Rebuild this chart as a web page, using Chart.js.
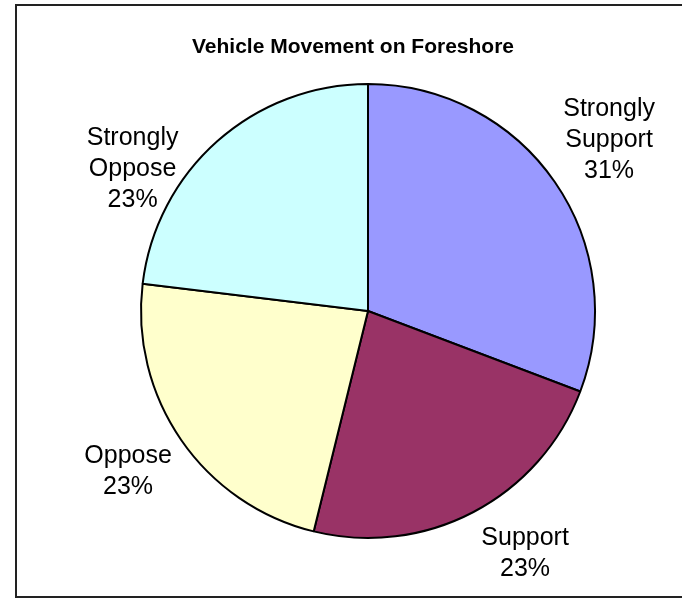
<!DOCTYPE html>
<html>
<head>
<meta charset="utf-8">
<script src="https://cdn.jsdelivr.net/npm/chart.js@4/dist/chart.umd.min.js"></script>
<style>
  html, body { margin: 0; padding: 0; background: #ffffff; }
  #wrap { position: relative; width: 682px; height: 601px; }
  canvas { display: block; }
</style>
</head>
<body>
<div id="wrap"><canvas id="c" width="682" height="601"></canvas></div>
<script>
const chartTitle = "Vehicle Movement on Foreshore";
const categories = ["Strongly Support", "Support", "Oppose", "Strongly Oppose"];
const labelLines = [["Strongly", "Support"], ["Support"], ["Oppose"], ["Strongly", "Oppose"]];
const responses = [4, 3, 3, 3];
const sliceColors = ["#9999FF", "#993366", "#FFFFCC", "#CCFFFF"];
// label offsets relative to the pie centre, in units of the pie radius
const labelOffsets = [[1.062, -0.753], [0.692, 1.070], [-1.057, 0.709], [-1.037, -0.623]];

const total = responses.reduce((a, b) => a + b, 0);

const framePlugin = {
  id: 'frame',
  beforeDraw(chart) {
    const ctx = chart.ctx;
    ctx.save();
    ctx.fillStyle = '#ffffff';
    ctx.fillRect(0, 0, chart.width, chart.height);
    ctx.strokeStyle = '#222222';
    ctx.lineWidth = 2;
    ctx.strokeRect(16, 5, 700, 592);
    ctx.restore();
  }
};

const labelPlugin = {
  id: 'outerLabels',
  afterDatasetsDraw(chart) {
    const ctx = chart.ctx;
    const meta = chart.getDatasetMeta(0);
    ctx.save();
    // title
    ctx.fillStyle = '#000000';
    ctx.font = 'bold 21px "Liberation Sans", Arial, sans-serif';
    ctx.textAlign = 'center';
    ctx.textBaseline = 'middle';
    ctx.fillText(chartTitle, 353, 47);
    // data labels
    ctx.font = '25px "Liberation Sans", Arial, sans-serif';
    meta.data.forEach((arc, i) => {
      const r = arc.outerRadius;
      const cx = arc.x + labelOffsets[i][0] * r;
      const cy = arc.y + labelOffsets[i][1] * r;
      const pct = Math.round(responses[i] / total * 100) + '%';
      const lines = labelLines[i].concat([pct]);
      const lh = 31;
      const startY = cy - (lines.length - 1) * lh / 2;
      lines.forEach((t, k) => ctx.fillText(t, cx, startY + k * lh));
    });
    ctx.restore();
  }
};

new Chart(document.getElementById('c'), {
  type: 'pie',
  data: {
    labels: categories,
    datasets: [{
      data: responses,
      backgroundColor: sliceColors,
      borderColor: '#000000',
      borderWidth: 2,
      hoverOffset: 0
    }]
  },
  options: {
    responsive: false,
    animation: false,
    events: [],
    layout: { padding: { left: 140, top: 83, right: 86, bottom: 62 } },
    plugins: {
      legend: { display: false },
      title: { display: false },
      tooltip: { enabled: false }
    }
  },
  plugins: [framePlugin, labelPlugin]
});
</script>
</body>
</html>
